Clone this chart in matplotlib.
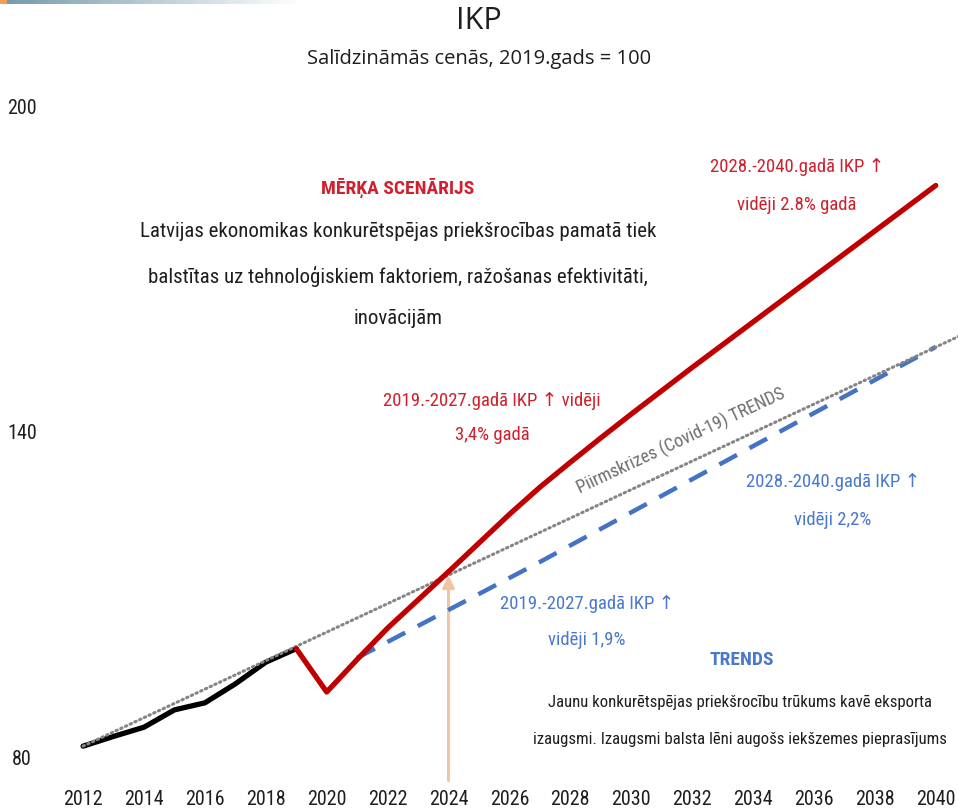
import numpy as np
import matplotlib
matplotlib.use("Agg")
import matplotlib.pyplot as plt
from matplotlib import font_manager

# --- dati (salīdzināmās cenās, 2019 = 100) ---
hist_years = [2012, 2013, 2014, 2015, 2016, 2017, 2018, 2019]
hist_vals = [82.0, 83.8, 85.5, 88.7, 90.0, 93.5, 97.5, 100.0]

target_years = [2019, 2020, 2021, 2022, 2023, 2024, 2025, 2026, 2027, 2028, 2029,
                2030, 2031, 2032, 2033, 2034, 2035, 2036, 2037, 2038, 2039, 2040]
target_vals = [100.0, 92.0, 98.0, 103.8, 109.0, 114.2, 119.5, 124.8, 129.8, 134.4, 138.9,
               143.3, 147.6, 151.9, 156.1, 160.3, 164.5, 168.7, 172.9, 177.1, 181.3, 185.5]

trend_years = [2021, 2027, 2040]
trend_vals = [98.3, 116.0, 155.7]

precrisis_years = [2012, 2041]
precrisis_vals = [82.0, 158.3]

arrow_year = 2024
arrow_val = 113.5

x_ticks = list(range(2012, 2041, 2))
y_ticks = [80, 140, 200]

# --- fonti: meklē šauru (condensed) fontu ---
fonts = font_manager.fontManager.ttflist
names = {f.name for f in fonts}
NARROW = {"fontfamily": ["DejaVu Sans"]}
for nm in ["Roboto Condensed", "Noto Sans Condensed", "Liberation Sans Narrow",
           "Open Sans Condensed", "DejaVu Sans Condensed"]:
    if nm in names:
        NARROW = {"fontfamily": [nm, "DejaVu Sans"]}
        break
else:
    for nm in ["Roboto", "Noto Sans", "Open Sans", "DejaVu Sans"]:
        if any(f.name == nm and f.stretch == "condensed" for f in fonts):
            NARROW = {"fontfamily": [nm, "DejaVu Sans"], "fontstretch": "condensed"}
            break
title_font = ["Open Sans", "DejaVu Sans"]

RED_LINE = "#C00000"
RED_TXT = "#D0202E"
BLUE_LINE = "#4472C4"
BLUE_TXT = "#4A78CF"
GREY = "#858585"
ARROW = "#F2C4A0"
DARK = "#1E1E1E"

W, H = 958, 811
fig = plt.figure(figsize=(W / 100, H / 100), dpi=100)

# axes area in pixels
left_px, right_px, top_px, bottom_px = 45, 958, 95, 775
ax = fig.add_axes([left_px / W, (H - bottom_px) / H,
                   (right_px - left_px) / W, (bottom_px - top_px) / H])
ax.set_xlim(2010.75, 2040.73)
ax.set_ylim(76.68, 202.2)
for s in ax.spines.values():
    s.set_visible(False)

ax.set_xticks(x_ticks)
ax.set_xticklabels([str(t) for t in x_ticks], fontsize=14.5, color=DARK, **NARROW)
ax.set_yticks(y_ticks)
ax.set_yticklabels([str(t) for t in y_ticks], fontsize=14.5, color=DARK, **NARROW)
ax.tick_params(axis="x", length=0, pad=11)
ax.tick_params(axis="y", length=0, pad=16.5)
for lab in ax.get_yticklabels():
    lab.set_horizontalalignment("center")

# līnijas
ax.plot(precrisis_years, precrisis_vals, color=GREY, lw=2.2, linestyle=(0, (0.5, 1.2)),
        dash_capstyle="round", zorder=3)
ax.plot(trend_years, trend_vals, color=BLUE_LINE, lw=3.2, linestyle=(0, (4.5, 3.2)), zorder=2)
ax.plot(target_years, target_vals, color=RED_LINE, lw=3.8, solid_capstyle="round",
        solid_joinstyle="round", zorder=4)
ax.plot(hist_years, hist_vals, color="black", lw=3.8, solid_capstyle="round", zorder=2)

# bulta 2024. gadā
ax.annotate("", xy=(arrow_year, arrow_val), xytext=(arrow_year, ax.get_ylim()[0] - 1),
            arrowprops=dict(arrowstyle="-|>,head_length=0.7,head_width=0.35", color=ARROW,
                            lw=2.2, shrinkA=0, shrinkB=0), zorder=1, annotation_clip=False)

# virsraksti
fig.text(0.5, 1 - 21 / H, "IKP", ha="center", va="center", fontsize=22,
         fontfamily=title_font, color=DARK)
fig.text(0.5, 1 - 59 / H, "Salīdzināmās cenās, 2019.gads = 100", ha="center", va="center",
         fontsize=14.5, fontfamily=title_font, color=DARK)

def px_text(x, y, s, **kw):
    fig.text(x / W, 1 - y / H, s, ha="center", va="center", **NARROW, **kw)

px_text(398, 188, "MĒRĶA SCENĀRIJS", fontsize=14, color=RED_TXT, fontweight="bold")
px_text(398, 275, "Latvijas ekonomikas konkurētspējas priekšrocības pamatā tiek\n"
                  "balstītas uz tehnoloģiskiem faktoriem, ražošanas efektivitāti,\n"
                  "inovācijām", fontsize=15, color=DARK, linespacing=2.45)
px_text(492, 418, "2019.-2027.gadā IKP ↑ vidēji\n3,4% gadā", fontsize=13.5, color=RED_TXT,
        linespacing=2.2)
px_text(797, 186, "2028.-2040.gadā IKP ↑\nvidēji 2.8% gadā", fontsize=13.5, color=RED_TXT,
        linespacing=2.45)
fig.text(681 / W, 1 - 441 / H, "Piirmskrizes (Covid-19) TRENDS", ha="center", va="center",
         rotation=25, rotation_mode="anchor", fontsize=13, color="#6E6E6E", **NARROW)
px_text(833, 501, "2028.-2040.gadā IKP ↑\nvidēji 2,2%", fontsize=13.5, color=BLUE_TXT,
        linespacing=2.4)
px_text(587, 622, "2019.-2027.gadā IKP ↑\nvidēji 1,9%", fontsize=13.5, color=BLUE_TXT,
        linespacing=2.3)
px_text(742, 660, "TRENDS", fontsize=14, color=BLUE_TXT, fontweight="bold")
px_text(740, 721, "Jaunu konkurētspējas priekšrocību trūkums kavē eksporta\n"
                  "izaugsmi. Izaugsmi balsta lēni augošs iekšzemes pieprasījums",
        fontsize=12.1, color=DARK, linespacing=2.8)

# dekoratīvā josla augšā
bar = fig.add_axes([0, 1 - 4 / H, 300 / W, 4 / H])
grad = np.linspace(0, 1, 256)
base = np.array([0.45, 0.60, 0.66])
cols = (base[None, :] * (1 - grad[:, None]) + grad[:, None])[None, :, :]
cols[0, :6] = [0.93, 0.62, 0.35]
bar.imshow(cols, aspect="auto")
bar.axis("off")

fig.savefig("out.png", dpi=100)
